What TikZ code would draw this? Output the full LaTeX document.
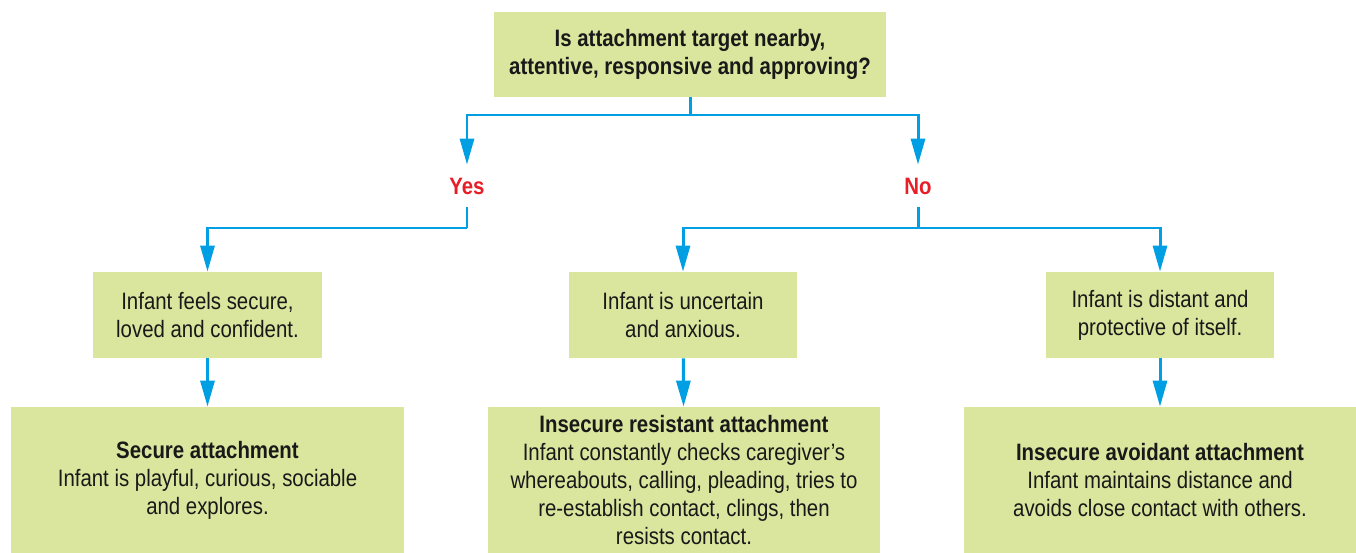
\documentclass[tikz,border=0pt]{standalone}
\usepackage{fontspec}
\setmainfont{Liberation Sans}[FakeStretch=0.86]
\usepackage{tikz}
\usetikzlibrary{arrows.meta,positioning}
\definecolor{boxgreen}{RGB}{218,230,158}
\definecolor{flowblue}{RGB}{0,159,227}
\definecolor{answerred}{RGB}{230,30,40}
\definecolor{inkblack}{RGB}{25,25,25}
\tikzset{
  qbox/.style={fill=boxgreen, minimum width=7.84cm, minimum height=1.7cm,
    align=center, text=inkblack, font=\fontsize{13.5}{15.9}\selectfont\bfseries},
  feelbox/.style={fill=boxgreen, minimum width=4.58cm, minimum height=1.72cm,
    align=center, text=inkblack, font=\fontsize{13.5}{15.9}\selectfont},
  typebox/.style={fill=boxgreen, minimum width=7.86cm, minimum height=2.92cm,
    align=center, text=inkblack, font=\fontsize{13.5}{15.9}\selectfont},
  answer/.style={text=answerred, font=\fontsize{13.5}{15}\selectfont\bfseries,
    minimum height=0.84cm, inner sep=0pt},
  link/.style={draw=flowblue, line width=1.7pt},
  arr/.style={link, -{Triangle[width=0.28cm, length=0.52cm]}},
}

\begin{document}
\begin{tikzpicture}[x=0.02cm, y=-0.02cm]
  \useasboundingbox (0,0) rectangle (1356,553);

  % The question
  \node[qbox] (q) at (690,54.5)
    {Is attachment target nearby,\\attentive, responsive and approving?};

  % Answers
  \node[answer] (yes) at (467,186) {Yes};
  \node[answer] (no) at (918,186) {No};

  % Feelings
  \node[feelbox] (secure) at (207.5,315)
    {Infant feels secure,\\loved and confident.};
  \node[feelbox] (uncertain) at (683,315)
    {Infant is uncertain\\and anxious.};
  \node[feelbox] (distant) at (1160,315)
    {Infant is distant and\\protective of itself.};

  % Attachment types
  \node[typebox] (sec) at (207.5,480)
    {\textbf{Secure attachment}\\Infant is playful, curious, sociable\\and explores.};
  \node[typebox] (res) at (684,480)
    {\textbf{Insecure resistant attachment}\\Infant constantly checks caregiver’s\\whereabouts, calling, pleading, tries to\\re-establish contact, clings, then\\resists contact.};
  \node[typebox] (avo) at (1160,480)
    {\textbf{Insecure avoidant attachment}\\Infant maintains distance and\\avoids close contact with others.};

  % Branch points
  \coordinate (qsplit) at (690,115);
  \coordinate (yessplit) at (467,228);
  \coordinate (nosplit) at (918,228);

  % Connectors
  \draw[link] (q.south) -- (qsplit);
  \draw[arr] (qsplit) -| (yes.north);
  \draw[arr] (qsplit) -| (no.north);

  \draw[link] (yes.south) -- (yessplit);
  \draw[arr] (yessplit) -| (secure.north);
  \draw[link] (no.south) -- (nosplit);
  \draw[arr] (nosplit) -| (uncertain.north);
  \draw[arr] (nosplit) -| (distant.north);

  \draw[arr] (secure) -- (sec);
  \draw[arr] (uncertain) -- (res);
  \draw[arr] (distant) -- (avo);
\end{tikzpicture}
\end{document}
